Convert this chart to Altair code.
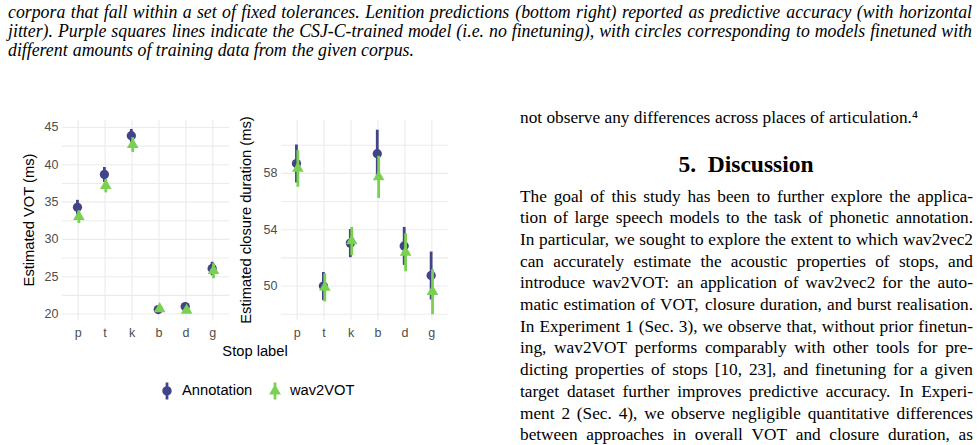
import altair as alt
import pandas as pd

# ---------------- data ----------------
STOPS = ["p", "t", "k", "b", "d", "g"]
SERIES = ["Annotation", "wav2VOT"]
SERIES_COLORS = ["#414487", "#7AD151"]

# Estimated VOT (ms): means and CI half-widths
vot_annotation = [34.3, 38.7, 43.9, 20.6, 21.0, 26.1]
vot_annotation_ci = [1.0, 1.0, 0.9, 0.4, 0.5, 0.9]
vot_wav2vot = [33.05, 37.2, 42.7, 20.7, 20.5, 25.8]
vot_wav2vot_ci = [0.85, 0.9, 1.0, 0.4, 0.4, 1.0]

# Estimated closure duration (ms): means and CI half-widths
clo_annotation = [58.7, 50.0, 53.05, 59.4, 52.85, 50.75]
clo_annotation_ci = [1.35, 1.0, 1.0, 1.7, 1.35, 1.7]
clo_wav2vot = [58.35, 49.9, 53.2, 57.75, 52.4, 49.6]
clo_wav2vot_ci = [1.3, 1.0, 1.0, 1.5, 1.35, 1.6]

VOT_MAJOR = [20, 25, 30, 35, 40, 45]
VOT_MINOR = [22.5, 27.5, 32.5, 37.5, 42.5]
CLO_MAJOR = [50, 54, 58]
CLO_MINOR = [48, 52, 56, 60]

VOT_TITLE = "Estimated VOT (ms)"
CLO_TITLE = "Estimated closure duration (ms)"
X_TITLE = "Stop label"

CAPTION_LINES = [
    "corpora that fall within a set of fixed tolerances. Lenition predictions (bottom right) reported as predictive accuracy (with horizontal",
    "jitter). Purple squares lines indicate the CSJ-C-trained model (i.e. no finetuning), with circles corresponding to models finetuned with",
    "different amounts of training data from the given corpus.",
]
SIDE_LINE = ["not observe any differences across places of articulation.\u2074"]
HEADING = ["5.\u00a0\u00a0Discussion"]
BODY_LINES = [
    "The goal of this study has been to further explore the applica-",
    "tion of large speech models to the task of phonetic annotation.",
    "In particular, we sought to explore the extent to which wav2vec2",
    "can accurately estimate the acoustic properties of stops, and",
    "introduce wav2VOT: an application of wav2vec2 for the auto-",
    "matic estimation of VOT, closure duration, and burst realisation.",
    "In Experiment 1 (Sec. 3), we observe that, without prior finetun-",
    "ing, wav2VOT performs comparably with other tools for pre-",
    "dicting properties of stops [10, 23], and finetuning for a given",
    "target dataset further improves predictive accuracy. In Experi-",
    "ment 2 (Sec. 4), we observe negligible quantitative differences",
    "between approaches in overall VOT and closure duration, as",
]

# ---------------- layout / style ----------------
W, H = 980, 445
PANEL_TOP, PANEL_BOTTOM = 120, 320
VOT_X = (62, 229)
CLO_X = (281, 448)
VOT_DOMAIN = [19.2, 46.0]
CLO_DOMAIN = [47.59, 61.79]

SANS = "Liberation Sans"
SERIF = "Liberation Serif"
GRID = "#EBEBEB"
TICK_GREY = "#4D4D4D"
TICK_SIZE = 12.5

# glyphs: triangle centred on its centroid; legend keys carry a vertical range bar
TRIANGLE = "M0,-1L0.866,0.5L-0.866,0.5Z"
KEY_CIRCLE = ("M0.55,0A0.55,0.55 0 0,1 -0.55,0A0.55,0.55 0 0,1 0.55,0Z"
              "M-0.16,-1L0.16,-1L0.16,1L-0.16,1Z")
KEY_TRIANGLE = "M0,-0.8L0.69,0.4L-0.69,0.4ZM-0.16,-1L0.16,-1L0.16,1L-0.16,1Z"

# Advance widths (per 1000 em) of the serif face, used to justify text lines
_ROMAN = dict(zip(
    " abcdefghijklmnopqrstuvwxyz",
    [250, 444, 500, 444, 500, 444, 333, 500, 500, 278, 278, 500, 278, 778,
     500, 500, 500, 500, 333, 389, 278, 500, 500, 722, 500, 500, 444]))
_ROMAN.update(dict(zip(
    "ABCDEFGHIJKLMNOPQRSTUVWXYZ",
    [722, 667, 667, 722, 611, 556, 722, 722, 333, 389, 722, 611, 889, 722,
     722, 556, 722, 667, 556, 611, 722, 722, 944, 722, 722, 611])))
_ROMAN.update({c: 500 for c in "0123456789"})
_ROMAN.update({".": 250, ",": 250, ":": 278, ";": 278, "-": 333, "(": 333,
               ")": 333, "[": 333, "]": 333, "'": 333})
_ITALIC = dict(zip(
    " abcdefghijklmnopqrstuvwxyz",
    [250, 500, 500, 444, 500, 444, 278, 500, 500, 278, 278, 444, 278, 722,
     500, 500, 500, 500, 389, 389, 278, 500, 444, 667, 444, 444, 389]))
_ITALIC.update({"A": 611, "C": 667, "J": 444, "L": 556, "P": 611, "S": 500,
                "T": 556, ".": 250, ",": 250, "-": 333, "(": 333, ")": 333})


def word_width(word, table, size):
    return sum(table.get(ch, 500) for ch in word) / 1000.0 * size


def justified_words(lines, x0, x1, table, size, ragged_last):
    rows = []
    for i, line in enumerate(lines):
        words = line.split()
        ragged = ragged_last and i == len(lines) - 1
        if ragged or len(words) < 2:
            gap = table[" "] / 1000.0 * size
        else:
            total = sum(word_width(w, table, size) for w in words)
            gap = (x1 - x0 - total) / (len(words) - 1)
        x = x0
        for j, w in enumerate(words):
            last = (j == len(words) - 1) and not ragged and len(words) > 1
            rows.append({"line": i, "word": w, "x": x1 if last else x,
                         "anchor": "right" if last else "left"})
            x += word_width(w, table, size) + gap
    return pd.DataFrame(rows)


def series_frame(means, cis):
    return pd.DataFrame({
        "stop": STOPS,
        "mean": means,
        "lo": [m - c for m, c in zip(means, cis)],
        "hi": [m + c for m, c in zip(means, cis)],
    })


def panel(ann, ann_ci, w2v, w2v_ci, xr, ydom, major, minor):
    xs = alt.Scale(type="point", domain=STOPS, range=list(xr), padding=0.6)
    ys = alt.Scale(type="linear", domain=ydom, range=[PANEL_BOTTOM, PANEL_TOP],
                   nice=False, zero=False)
    X = alt.X("stop:N", scale=xs, axis=None)

    def Y(field):
        return alt.Y(f"{field}:Q", scale=ys, axis=None)

    hgrid = alt.Chart(pd.DataFrame({"v": major + minor})).mark_rule(
        color=GRID, strokeWidth=1.1
    ).encode(y=Y("v"), x=alt.value(xr[0]), x2=alt.value(xr[1]))

    vgrid = alt.Chart(pd.DataFrame({"stop": STOPS})).mark_rule(
        color=GRID, strokeWidth=1.1
    ).encode(x=X, y=alt.value(PANEL_TOP), y2=alt.value(PANEL_BOTTOM))

    ylabels = alt.Chart(pd.DataFrame({"v": major})).mark_text(
        align="right", baseline="middle", font=SANS, fontSize=TICK_SIZE, color=TICK_GREY
    ).encode(y=Y("v"), x=alt.value(xr[0] - 3.5), text=alt.Text("v:Q", format="d"))

    xlabels = alt.Chart(pd.DataFrame({"stop": STOPS})).mark_text(
        align="center", baseline="alphabetic", font=SANS, fontSize=TICK_SIZE, color=TICK_GREY
    ).encode(x=X, y=alt.value(337), text="stop:N")

    layers = [hgrid, vgrid, ylabels, xlabels]
    for means, cis, color, shape, size, dx in [
        (ann, ann_ci, SERIES_COLORS[0], "circle", 86, -0.7),
        (w2v, w2v_ci, SERIES_COLORS[1], TRIANGLE, 182, 0.7),
    ]:
        df = series_frame(means, cis)
        bars = alt.Chart(df).mark_rule(color=color, strokeWidth=2.8, xOffset=dx).encode(
            x=X, y=Y("lo"), y2="hi:Q"
        )
        pts = alt.Chart(df).mark_point(
            filled=True, shape=shape, size=size, color=color, opacity=1, xOffset=dx
        ).encode(x=X, y=Y("mean"))
        layers += [bars, pts]
    return layers


def paragraph(lines, x0, x1, first_baseline, step, size, style="normal",
              ragged_last=True):
    table = _ITALIC if style == "italic" else _ROMAN
    df = justified_words(lines, x0, x1, table, size, ragged_last)
    n = len(lines)
    ys = alt.Scale(domain=[0, max(n - 1, 1)],
                   range=[first_baseline, first_baseline + step * max(n - 1, 1)])
    xs = alt.Scale(domain=[0, W], range=[0, W])
    out = []
    for anchor in ["left", "right"]:
        part = df[df["anchor"] == anchor]
        if part.empty:
            continue
        out.append(alt.Chart(part).mark_text(
            align=anchor, baseline="alphabetic", font=SERIF, fontSize=size,
            fontStyle=style, color="black"
        ).encode(
            x=alt.X("x:Q", scale=xs, axis=None),
            y=alt.Y("line:Q", scale=ys, axis=None),
            text="word:N",
        ))
    return out


def label(text, x, y, size, angle=0, font=SANS, weight="normal"):
    return alt.Chart(pd.DataFrame({"t": [text]})).mark_text(
        align="center", baseline="middle", font=font, fontSize=size,
        fontWeight=weight, color="black", angle=angle
    ).encode(x=alt.value(x), y=alt.value(y), text="t:N")


legend_opts = dict(
    orient="none", legendX=158.5, legendY=382.5, direction="horizontal", title=None,
    labelFont=SANS, labelFontSize=14.7, labelColor="black", labelOffset=6.5,
    symbolSize=289, symbolStrokeWidth=0, columnPadding=14, padding=0,
)
legend_keys = alt.Chart(pd.DataFrame({"series": SERIES})).transform_filter(
    "false"
).mark_point(filled=True, opacity=1, size=289).encode(
    color=alt.Color("series:N", scale=alt.Scale(domain=SERIES, range=SERIES_COLORS),
                    legend=alt.Legend(**legend_opts)),
    shape=alt.Shape("series:N", scale=alt.Scale(domain=SERIES, range=[KEY_CIRCLE, KEY_TRIANGLE]),
                    legend=alt.Legend(**legend_opts)),
)

layers = []
layers += panel(vot_annotation, vot_annotation_ci, vot_wav2vot, vot_wav2vot_ci,
                VOT_X, VOT_DOMAIN, VOT_MAJOR, VOT_MINOR)
layers += panel(clo_annotation, clo_annotation_ci, clo_wav2vot, clo_wav2vot_ci,
                CLO_X, CLO_DOMAIN, CLO_MAJOR, CLO_MINOR)
layers += [
    label(VOT_TITLE, 30, 220, 14.7, angle=270),
    label(CLO_TITLE, 247, 220, 14.7, angle=270),
    label(X_TITLE, 255, 352, 14.7),
    legend_keys,
    label(HEADING[0], 746, 165, 23.5, font=SERIF, weight="bold"),
]
layers += paragraph(CAPTION_LINES, 8, 972, 17.5, 19.35, 17.8, style="italic")
layers += paragraph(SIDE_LINE, 520, 973, 123, 20, 17.3)
layers += paragraph(BODY_LINES, 520, 973, 201.5, 21.7, 17.3, ragged_last=False)

chart = alt.layer(*layers).resolve_scale(
    x="independent", y="independent"
).properties(
    width=W, height=H, padding=0, autosize=alt.AutoSizeParams(type="none")
).configure_view(stroke=None)

chart.save("out.html", embed_options={"renderer": "svg", "actions": False})
